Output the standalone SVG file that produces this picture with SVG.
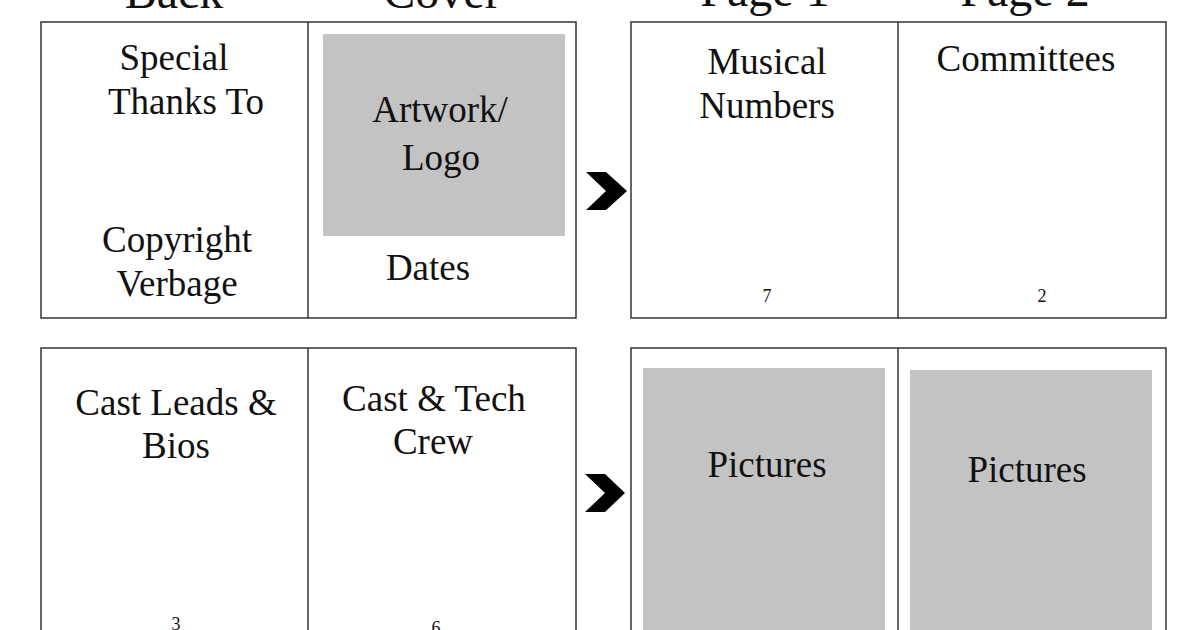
<svg xmlns="http://www.w3.org/2000/svg" width="1200" height="630" viewBox="0 0 1200 630">
<style>
.b{fill:#fff;stroke:#333;stroke-width:1.5}
.g{fill:#c3c3c3}
.t{font-family:"Liberation Serif","DejaVu Serif",serif;font-size:37px;text-anchor:middle;fill:#111}
.h{font-size:48px}
.n{font-size:18px}
</style>
<rect width="1200" height="630" fill="#fff"/>
<g id="titles">
<text class="t h" x="174" y="8">Back</text>
<text class="t h" x="442" y="8">Cover</text>
<text class="t h" x="765" y="6">Page 1</text>
<text class="t h" x="1025" y="6">Page 2</text>
</g>
<g id="spread1">
<rect class="b" x="41" y="22" width="535" height="296"/>
<line class="b" x1="308" y1="22" x2="308" y2="318"/>
<text class="t" x="174" y="70">Special</text>
<text class="t" x="186" y="114">Thanks To</text>
<text class="t" x="177" y="252">Copyright</text>
<text class="t" x="177" y="296">Verbage</text>
<rect class="g" x="323" y="34" width="242" height="202"/>
<text class="t" x="440" y="122">Artwork/</text>
<text class="t" x="441" y="170">Logo</text>
<text class="t" x="428" y="280">Dates</text>
</g>
<g id="spread2">
<rect class="b" x="631" y="22" width="535" height="296"/>
<line class="b" x1="898" y1="22" x2="898" y2="318"/>
<text class="t" x="767" y="74">Musical</text>
<text class="t" x="767" y="118">Numbers</text>
<text class="t n" x="767" y="302">7</text>
<text class="t" x="1026" y="71">Committees</text>
<text class="t n" x="1042" y="302">2</text>
</g>
<g id="spread3">
<rect class="b" x="41" y="348" width="535" height="300"/>
<line class="b" x1="308" y1="348" x2="308" y2="648"/>
<text class="t" x="176" y="415">Cast Leads &amp;</text>
<text class="t" x="176" y="458">Bios</text>
<text class="t n" x="176" y="630">3</text>
<text class="t" x="434" y="411">Cast &amp; Tech</text>
<text class="t" x="433" y="454">Crew</text>
<text class="t n" x="436" y="634">6</text>
</g>
<g id="spread4">
<rect class="b" x="631" y="348" width="535" height="300"/>
<line class="b" x1="898" y1="348" x2="898" y2="648"/>
<rect class="g" x="643" y="368" width="242" height="270"/>
<text class="t" x="767" y="477">Pictures</text>
<rect class="g" x="910" y="370" width="242" height="270"/>
<text class="t" x="1027" y="482">Pictures</text>
</g>
<g id="connectors" fill="#000">
<polygon points="586,172 606,172 627,191 606,210 586,210 606,191"/>
<polygon points="585,474 605,474 625,493 605,512 585,512 605,493"/>
</g>
</svg>
